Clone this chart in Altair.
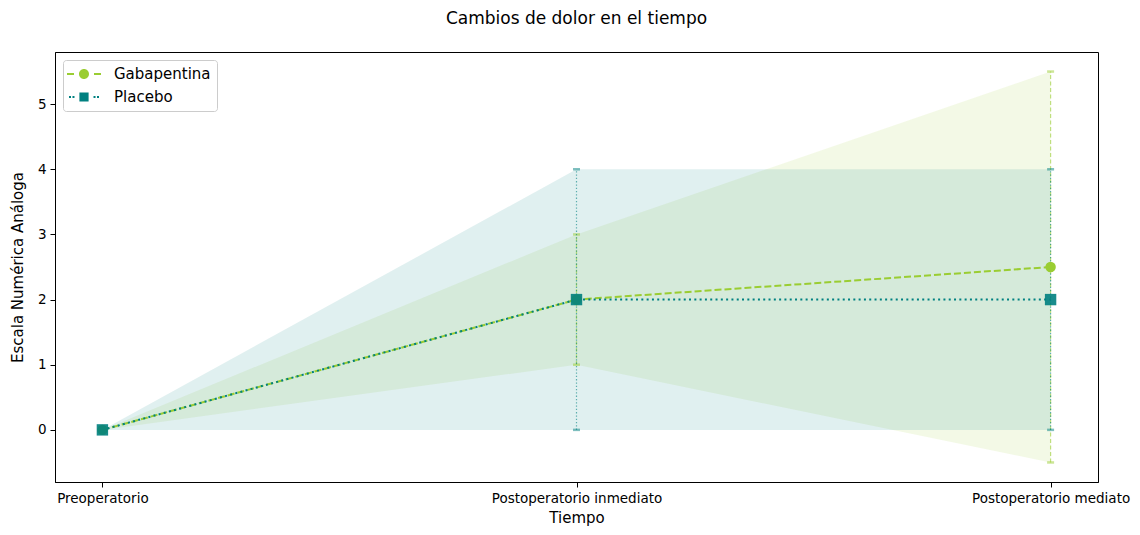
import altair as alt
import pandas as pd

# ---- data ----
times = ["Preoperatorio", "Postoperatorio inmediato", "Postoperatorio mediato"]
series = ["Gabapentina", "Placebo"]
colors = ["#9acd32", "#008080"]

gaba_mean = [0, 2, 2.5]
gaba_low = [0, 1, -0.5]
gaba_high = [0, 3, 5.5]

plac_mean = [0, 2, 2]
plac_low = [0, 0, 0]
plac_high = [0, 4, 4]

y_ticks = [0, 1, 2, 3, 4, 5]

rows = []
for s, m, lo, hi in [("Gabapentina", gaba_mean, gaba_low, gaba_high),
                     ("Placebo", plac_mean, plac_low, plac_high)]:
    for i, t in enumerate(times):
        rows.append({"t": i, "tiempo": t, "serie": s, "media": m[i], "inf": lo[i], "sup": hi[i]})
df = pd.DataFrame(rows)

FONT = "DejaVu Sans"

label_expr = "[" + ",".join("'%s'" % t for t in times) + "][datum.value]"
x_enc = alt.X("t:Q",
              scale=alt.Scale(domain=[-0.1, 2.1], nice=False, zero=False),
              axis=alt.Axis(values=list(range(len(times))), labelExpr=label_expr, title="Tiempo"))
yscale = alt.Scale(domain=[-0.8, 5.8], nice=False, zero=False)
yaxis = alt.Axis(values=y_ticks, title="Escala Numérica Análoga")
cscale = alt.Scale(domain=series, range=colors)

# legend symbols: line segments + marker, drawn as filled paths
gaba_sym = ("M-2.125,-0.125L-1.25,-0.125L-1.25,0.125L-2.125,0.125Z"
            "M1.25,-0.125L2.125,-0.125L2.125,0.125L1.25,0.125Z"
            "M-0.625,0A0.625,0.625 0 1,0 0.625,0A0.625,0.625 0 1,0 -0.625,0Z")
plac_sym = ("M-1.875,-0.125L-1.625,-0.125L-1.625,0.125L-1.875,0.125Z"
            "M-1.44,-0.125L-1.19,-0.125L-1.19,0.125L-1.44,0.125Z"
            "M1.19,-0.125L1.44,-0.125L1.44,0.125L1.19,0.125Z"
            "M1.625,-0.125L1.875,-0.125L1.875,0.125L1.625,0.125Z"
            "M-0.575,-0.575L0.575,-0.575L0.575,0.575L-0.575,0.575Z")

legend = alt.Legend(
    title=None, orient="none", legendX=8, legendY=8,
    fillColor="white", strokeColor="#cccccc", cornerRadius=3, padding=6,
    symbolSize=256, symbolOffset=7, labelOffset=22, rowPadding=7,
    labelFontSize=15, labelFont=FONT, labelColor="black",
    symbolStrokeWidth=0, symbolOpacity=1,
)

base = alt.Chart(df)
cnone = alt.Color("serie:N", scale=cscale, legend=None)

layers = []
# legend-only layer first (draws no rows; explicit scale domains feed the legend)
layers.append(base.transform_filter("false").mark_point(filled=True).encode(
    x=x_enc, y=alt.Y("media:Q", scale=yscale, axis=yaxis),
    color=alt.Color("serie:N", scale=cscale, legend=legend),
    shape=alt.Shape("serie:N", scale=alt.Scale(domain=series, range=[gaba_sym, plac_sym]), legend=legend)))
# bands
for s in series:
    layers.append(base.transform_filter(alt.datum.serie == s).mark_area(opacity=0.12).encode(
        x=x_enc, y=alt.Y("inf:Q", scale=yscale, axis=yaxis), y2="sup:Q", color=cnone))
# error bars
err_dash = {"Gabapentina": [4, 2.5], "Placebo": [1.3, 2]}
for s in series:
    sub = base.transform_filter(alt.datum.serie == s)
    layers.append(sub.mark_rule(strokeWidth=1.2, opacity=0.6, strokeDash=err_dash[s]).encode(
        x=x_enc, y=alt.Y("inf:Q", scale=yscale, axis=yaxis), y2="sup:Q", color=cnone))
    layers.append(sub.mark_tick(orient="horizontal", size=7, thickness=2.5, opacity=0.5).encode(
        x=x_enc, y=alt.Y("inf:Q", scale=yscale, axis=yaxis), color=cnone))
    layers.append(sub.mark_tick(orient="horizontal", size=7, thickness=2.5, opacity=0.5).encode(
        x=x_enc, y=alt.Y("sup:Q", scale=yscale, axis=yaxis), color=cnone))
# lines
line_dash = {"Gabapentina": [7, 3], "Placebo": [2, 3.3]}
for s in series:
    layers.append(base.transform_filter(alt.datum.serie == s).mark_line(strokeWidth=2, strokeDash=line_dash[s]).encode(
        x=x_enc, y=alt.Y("media:Q", scale=yscale, axis=yaxis), color=cnone))
# points
shapes = {"Gabapentina": ("circle", 110, 1.0), "Placebo": ("square", 130, 0.9)}
for s in series:
    shp, sz, op = shapes[s]
    layers.append(base.transform_filter(alt.datum.serie == s).mark_point(filled=True, shape=shp, size=sz, opacity=op).encode(
        x=x_enc, y=alt.Y("media:Q", scale=yscale, axis=yaxis), color=cnone))

chart = alt.layer(*layers).properties(
    width=1043, height=430,
    title=alt.Title("Cambios de dolor en el tiempo", fontSize=17, fontWeight="normal",
                    font=FONT, color="black", offset=24, anchor="middle"),
    autosize=alt.AutoSizeParams(type="none"),
    padding={"left": 47, "top": 44, "right": 34, "bottom": 45},
).configure_view(stroke="black", strokeWidth=1).configure_axis(
    grid=False, domainColor="black", tickColor="black", tickSize=5,
    labelFont=FONT, labelFontSize=13.5, labelColor="black", labelPadding=4,
    titleFont=FONT, titleFontSize=15, titleFontWeight="normal", titleColor="black",
).configure_axisX(titlePadding=6).configure_axisY(titlePadding=12)

chart.save("out.html", embed_options={"renderer": "svg", "actions": False})
